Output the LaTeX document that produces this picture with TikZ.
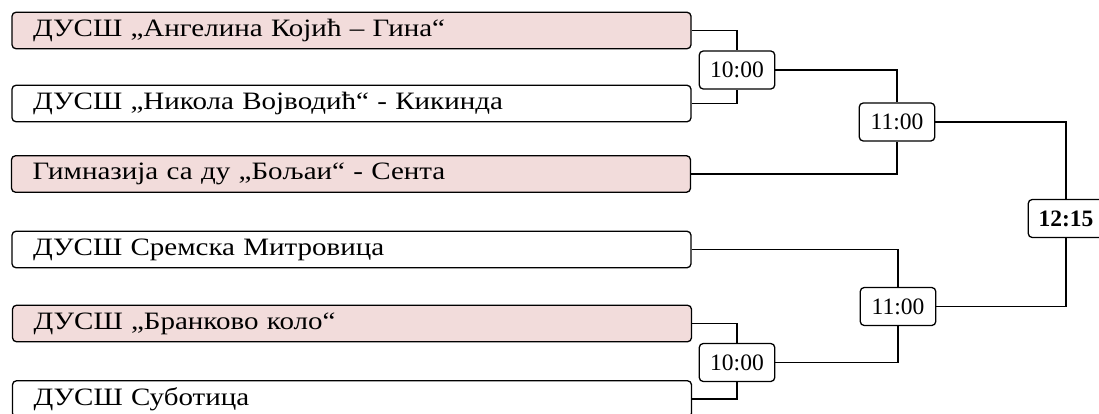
\documentclass[tikz,border=0pt]{standalone}
\usepackage{fontspec}
\setmainfont{Liberation Serif}
\newfontfamily\teamfont[FakeStretch=1.16]{Liberation Serif}
\definecolor{teampink}{HTML}{F2DCDB}
\begin{document}
\begin{tikzpicture}[x=1pt,y=-1pt,
  team/.style={draw, line width=1.3pt, rounded corners=4pt, minimum width=679pt, minimum height=36.5pt,
    text width=637pt, inner xsep=21pt, inner ysep=0pt, align=left, font=\teamfont\fontsize{25}{28}\selectfont},
  pinkteam/.style={team, fill=teampink},
  time/.style={draw, line width=1.3pt, rounded corners=4pt, minimum width=75.5pt, minimum height=38pt,
    inner sep=0pt, font=\fontsize{23.5}{27}\selectfont, fill=white},
  link/.style={line width=1.3pt}]
\useasboundingbox (0,0) rectangle (1099,414);
\begin{scope}
\clip (0,0) rectangle (1099,414);
\node[pinkteam] (t1) at (351.5,30.5) {ДУСШ „Ангелина Којић – Гина“};
\node[team] (t2) at (351.5,103.5) {ДУСШ „Никола Војводић“ - Кикинда};
\node[pinkteam] (t3) at (351,174) {Гимназија са ду „Бољаи“ - Сента};
\node[team] (t4) at (351.5,249.5) {ДУСШ Сремска Митровица};
\node[pinkteam] (t5) at (352,323.5) {ДУСШ „Бранково коло“};
\node[team] (t6) at (352,399) {ДУСШ Суботица};

\node[time] (m1) at (737,70) {10:00};
\node[time] (m2) at (737,362.5) {10:00};
\node[time] (s1) at (897,122) {11:00};
\node[time] (s2) at (898,306.5) {11:00};
\node[time, font=\fontsize{23.5}{27}\selectfont\bfseries] (f) at (1066,218.5) {12:15};

\draw[link] (t1.east) -| (m1.north);
\draw[link] (t2.east) -| (m1.south);
\draw[link] (m1.east) -| (s1.north);
\draw[link] (t3.east) -| (s1.south);
\draw[link] (t4.east) -| (s2.north);
\draw[link] (t5.east) -| (m2.north);
\draw[link] (t6.east) -| (m2.south);
\draw[link] (m2.east) -| (s2.south);
\draw[link] (s1.east) -| (f.north);
\draw[link] (s2.east) -| (f.south);
\end{scope}
\end{tikzpicture}
\end{document}
